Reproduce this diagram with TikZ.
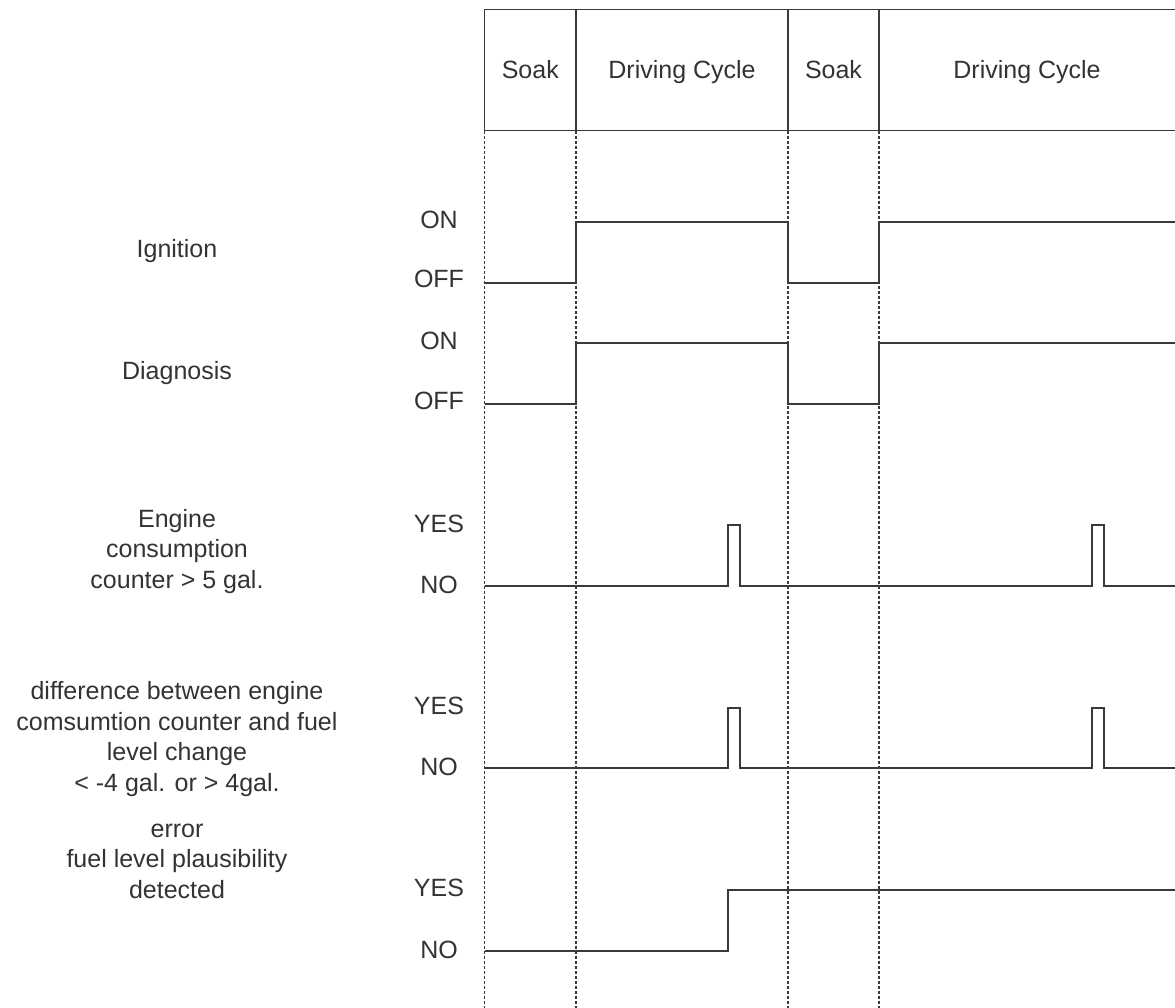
\documentclass[tikz,border=0pt]{standalone}
\usepackage{fontspec}
\setmainfont{Liberation Sans}
\definecolor{ink}{HTML}{3A3A3A}
\definecolor{txt}{HTML}{333333}
\tikzset{
  sig/.style={draw=ink, line width=1.4pt, line join=miter},
  frame/.style={draw=ink, line width=1.6pt},
  gridline/.style={draw=ink, line width=1.1pt, dash pattern=on 3pt off 2pt},
  lbl/.style={text=txt, font=\fontsize{25}{30.7}\selectfont, anchor=base, inner sep=0pt},
}
\newcommand{\lines}[1]{\begin{tabular}[t]{@{}c@{}}#1\end{tabular}}
\begin{document}
\begin{tikzpicture}[x=1pt, y=-1pt]
  \useasboundingbox (0,0) rectangle (1175,1007);

  % phase boundaries
  \coordinate (t0) at (484.5,0);
  \coordinate (t1) at (576,0);
  \coordinate (t2) at (788,0);
  \coordinate (t3) at (879,0);
  \coordinate (tE) at (1175,0);

  % header with the phases
  \draw[frame] (1177,9.5) -- (484.5,9.5) -- (484.5,130.5) -- (1177,130.5);
  \foreach \t in {t1,t2,t3} \draw[frame] (\t |- 0,9.5) -- (\t |- 0,130.5);
  \node[lbl] (soakA)  at (530.3,78) {Soak};
  \node[lbl] (driveA) at (682,78)   {Driving Cycle};
  \node[lbl] (soakB)  at (833.5,78) {Soak};
  \node[lbl] (driveB) at (1027,78)  {Driving Cycle};

  % dashed time markers
  \foreach \t in {t0,t1,t2,t3} \draw[gridline] (\t |- 0,130.5) -- (\t |- 0,1008);

  % signal names
  \node[lbl] (ign)  at (177,257) {Ignition};
  \node[lbl] (diag) at (177,379) {Diagnosis};
  \node[lbl] (cons) at (177,527) {\lines{Engine\\consumption\\counter > 5 gal.}};
  \node[lbl] (diff) at (177,699.3) {\lines{difference between engine\\comsumtion counter and fuel\\level change\\< -4 gal. or > 4gal.}};
  \node[lbl] (err)  at (177,837) {\lines{error\\fuel level plausibility\\detected}};

  % level names
  \node[lbl] (ignOn)   at (439,228.5) {ON};
  \node[lbl] (ignOff)  at (439,287.5) {OFF};
  \node[lbl] (diagOn)  at (439,349.5) {ON};
  \node[lbl] (diagOff) at (439,409.5) {OFF};
  \node[lbl] (consY)   at (439,532) {YES};
  \node[lbl] (consN)   at (439,593) {NO};
  \node[lbl] (diffY)   at (439,714) {YES};
  \node[lbl] (diffN)   at (439,775) {NO};
  \node[lbl] (errY)    at (439,896) {YES};
  \node[lbl] (errN)    at (439,958) {NO};

  % ignition
  \draw[sig] (484.5,283) -| (576,222) -| (788,283) -| (879,222) -- (1176,222);
  % diagnosis
  \draw[sig] (484.5,404) -| (576,343) -| (788,404) -| (879,343) -- (1176,343);
  % engine consumption counter
  \draw[sig] (484.5,586) -| (728,525) -| (740,586) -| (1092,525) -| (1104,586) -- (1176,586);
  % difference counter / fuel level
  \draw[sig] (484.5,768) -| (728,708) -| (740,768) -| (1092,708) -| (1104,768) -- (1176,768);
  % error flag
  \draw[sig] (484.5,951) -| (728,890) -- (1176,890);
\end{tikzpicture}
\end{document}
